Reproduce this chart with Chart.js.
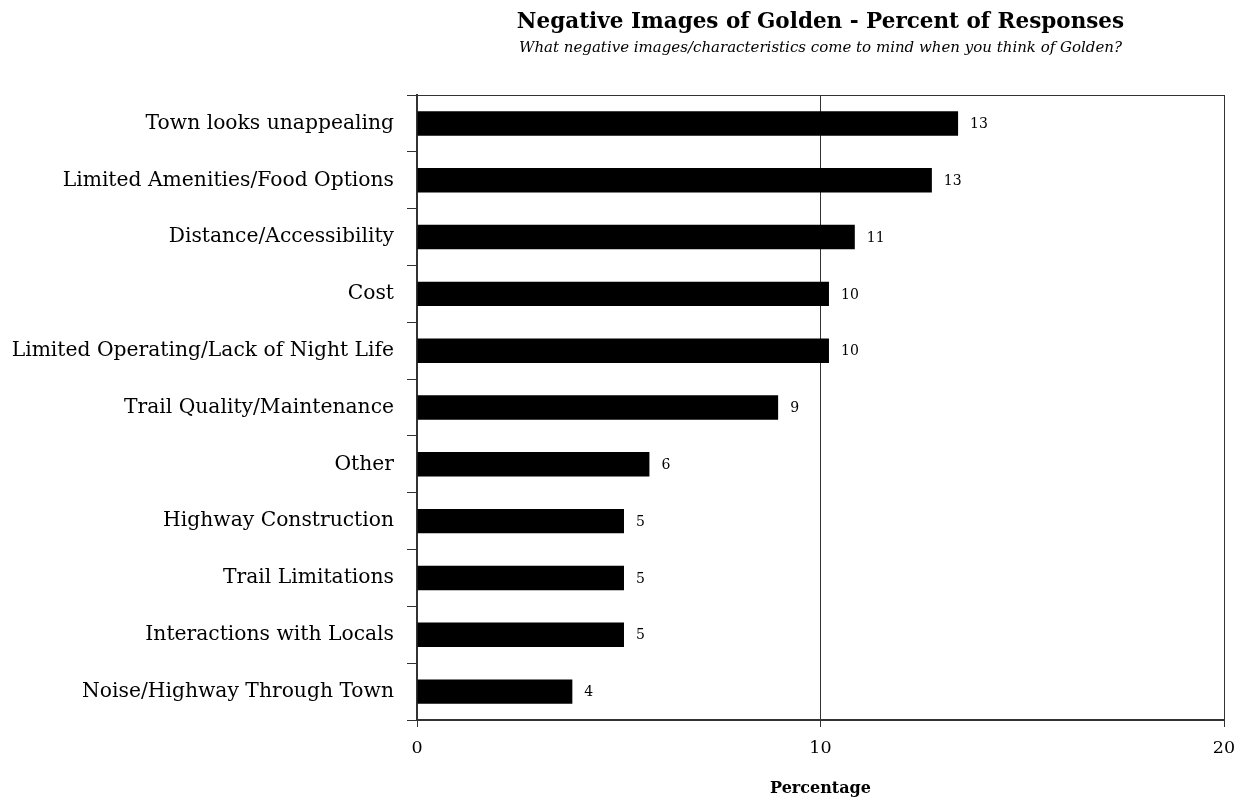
<!DOCTYPE html>
<html>
<head>
<meta charset="utf-8">
<title>Negative Images of Golden</title>
<script src="https://cdn.jsdelivr.net/npm/chart.js@4"></script>
<style>
    html, body { margin: 0; padding: 0; background: #fff; }
    #wrap { width: 1242px; height: 801px; }
</style>
</head>
<body>
<div id="wrap"><canvas id="myChart" width="1242" height="801"></canvas></div>
<script>
const categories = [
    'Town looks unappealing',
    'Limited Amenities/Food Options',
    'Distance/Accessibility',
    'Cost',
    'Limited Operating/Lack of Night Life',
    'Trail Quality/Maintenance',
    'Other',
    'Highway Construction',
    'Trail Limitations',
    'Interactions with Locals',
    'Noise/Highway Through Town'
];
const percentages = [13.41, 12.76, 10.85, 10.21, 10.21, 8.95, 5.76, 5.13, 5.13, 5.13, 3.85];
const xTicks = [0, 10, 20];

const serif = "'DejaVu Serif', 'Liberation Serif', serif";

// value labels at the end of each bar
const barLabels = {
    id: 'barLabels',
    afterDatasetsDraw(chart) {
        const ctx = chart.ctx;
        const meta = chart.getDatasetMeta(0);
        ctx.save();
        ctx.fillStyle = '#000';
        ctx.font = `14px ${serif}`;
        ctx.textAlign = 'left';
        ctx.textBaseline = 'middle';
        meta.data.forEach((bar, i) => {
            ctx.fillText(Math.round(percentages[i]), bar.x + 12, bar.y + 1);
        });
        ctx.restore();
    }
};

// box round the plot
const plotBorder = {
    id: 'plotBorder',
    afterDraw(chart) {
        const { ctx, chartArea: a } = chart;
        ctx.save();
        ctx.strokeStyle = '#333';
        ctx.lineWidth = 1;
        ctx.beginPath();
        ctx.moveTo(a.left, a.top + 0.5);
        ctx.lineTo(a.right + 0.5, a.top + 0.5);
        ctx.lineTo(a.right + 0.5, a.bottom);
        ctx.stroke();
        ctx.restore();
    }
};

function makeChart() {
    const ctx = document.getElementById('myChart');

    new Chart(ctx, {
        type: 'bar',
        data: {
            labels: categories,
            datasets: [{
                data: percentages,
                backgroundColor: '#000',
                borderWidth: 0,
                categoryPercentage: 1,
                barPercentage: 0.43
            }]
        },
        options: {
            indexAxis: 'y',
            responsive: false,
            animation: false,
            layout: { padding: { left: 0, right: 18, top: 0, bottom: 0 } },
            plugins: {
                legend: { display: false },
                tooltip: { enabled: false },
                title: {
                    display: true,
                    text: 'Negative Images of Golden - Percent of Responses',
                    fullSize: false,
                    color: '#000',
                    font: { family: serif, size: 21.5, weight: 'bold' },
                    padding: { top: 10, bottom: 3 }
                },
                subtitle: {
                    display: true,
                    text: 'What negative images/characteristics come to mind when you think of Golden?',
                    fullSize: false,
                    color: '#000',
                    font: { family: serif, size: 15, style: 'italic' },
                    padding: { top: 0, bottom: 38.2 }
                }
            },
            scales: {
                x: {
                    min: 0,
                    max: 20,
                    afterBuildTicks(axis) {
                        axis.ticks = xTicks.map(v => ({ value: v }));
                    },
                    afterFit(axis) {
                        axis.height = 81;
                        axis.paddingLeft = 0;
                        axis.paddingRight = 0;
                    },
                    grid: {
                        color: '#333',
                        lineWidth: 1,
                        drawTicks: true,
                        tickLength: 7
                    },
                    border: { color: '#333', width: 2 },
                    ticks: {
                        color: '#000',
                        font: { family: serif, size: 17.5 },
                        padding: 11
                    },
                    title: {
                        display: true,
                        text: 'Percentage',
                        color: '#000',
                        font: { family: serif, size: 16, weight: 'bold' },
                        padding: { top: 0, bottom: 3 }
                    }
                },
                y: {
                    afterFit(axis) { axis.width = 417; },
                    grid: {
                        offset: true,
                        drawOnChartArea: false,
                        color: '#333',
                        tickLength: 10
                    },
                    border: { color: '#333', width: 2 },
                    ticks: {
                        color: '#000',
                        font: { family: serif, size: 20.3 },
                        padding: 13
                    }
                }
            }
        },
        plugins: [barLabels, plotBorder]
    });
}

function init() {
    makeChart();
}

init();
</script>
</body>
</html>
